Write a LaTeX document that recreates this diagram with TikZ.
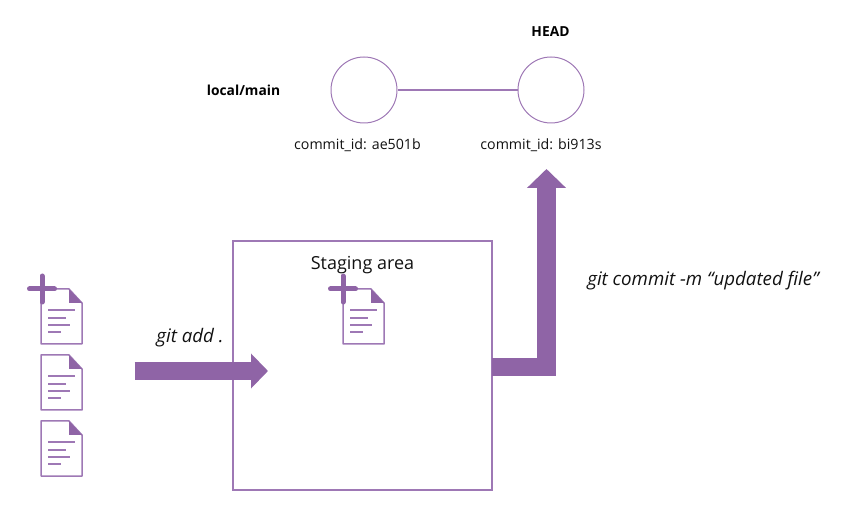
\documentclass[tikz,border=0pt]{standalone}
\usepackage{fontspec}
\setmainfont{Open Sans}
\usetikzlibrary{arrows.meta}
\definecolor{pline}{HTML}{9E78B5}
\definecolor{pfill}{HTML}{8F64A6}
\definecolor{ptext}{HTML}{111111}
\tikzset{
  x=1pt,y=-1pt,
  txt/.style={inner sep=0pt,text=ptext,font=\fontsize{14.2}{17}\selectfont},
  boldtxt/.style={inner sep=0pt,text=black,font=\fontsize{13.8}{16}\selectfont\bfseries},
  cmd/.style={inner sep=0pt,text=ptext,font=\fontsize{18.7}{22}\selectfont\itshape},
  commit/.style={circle,draw=pline,line width=1pt,minimum size=66pt,inner sep=0pt},
  docicon/.pic={
    \draw[pline,line width=1.5pt,line join=round,fill=white]
      (0,0) -- (28,0) -- (41,14) -- (41,55) -- (0,55) -- cycle;
    \fill[pfill] (28,0) -- (41,14) -- (28,14) -- cycle;
    \draw[pline,line width=1.8pt] (7,21) -- (34,21) (7,29) -- (25,29) (7,36) -- (29,36) (7,43) -- (20,43);
  },
  plusicon/.pic={
    \draw[pfill,line width=5pt,line cap=round] (-12.5,0) -- (12.5,0) (0,-13) -- (0,13);
  }
}
\begin{document}
\begin{tikzpicture}
\useasboundingbox (0,0) rectangle (857,518);
% staging area
\node[draw=pline,line width=1.3pt,minimum width=259pt,minimum height=249pt,inner sep=0pt] (stage) at (362.5,365.5) {};
\node[txt,font=\fontsize{18}{21}\selectfont] (stagelabel) at (362.5,265) {Staging area};
% files
\pic at (41,289) {docicon};
\pic at (42,289) {plusicon};
\pic at (41,355) {docicon};
\pic at (41,421) {docicon};
\pic at (343,289) {docicon};
\pic at (343,289) {plusicon};
% commits
\node[commit] (c1) at (364,90) {};
\node[commit] (c2) at (551,90) {};
\draw[pline,line width=1.2pt] (c1) -- (c2);
\node[txt] (id1) at (357.5,145) {commit\_id: ae501b};
\node[txt] (id2) at (541,145) {commit\_id: bi913s};
\node[boldtxt] (head) at (550.5,31.5) {HEAD};
\node[boldtxt] (branch) at (243.5,90) {local/main};
% arrows
\coordinate (a1s) at (134.5,371);
\coordinate (a1e) at (268,371);
\draw[pfill,line width=18pt,-{Triangle[length=17pt,width=34pt]}] (a1s) -- (a1e);
\coordinate (a2s) at (492,367);
\coordinate (a2e) at (546.5,169);
\draw[pfill,line width=18.5pt,line join=miter,-{Triangle[length=19pt,width=38pt]}] (a2s) -| (a2e);
\node[cmd] (addlabel) at (190,338) {git add .};
\node[cmd] (commitlabel) at (703,281) {git commit -m “updated file”};
\end{tikzpicture}
\end{document}
